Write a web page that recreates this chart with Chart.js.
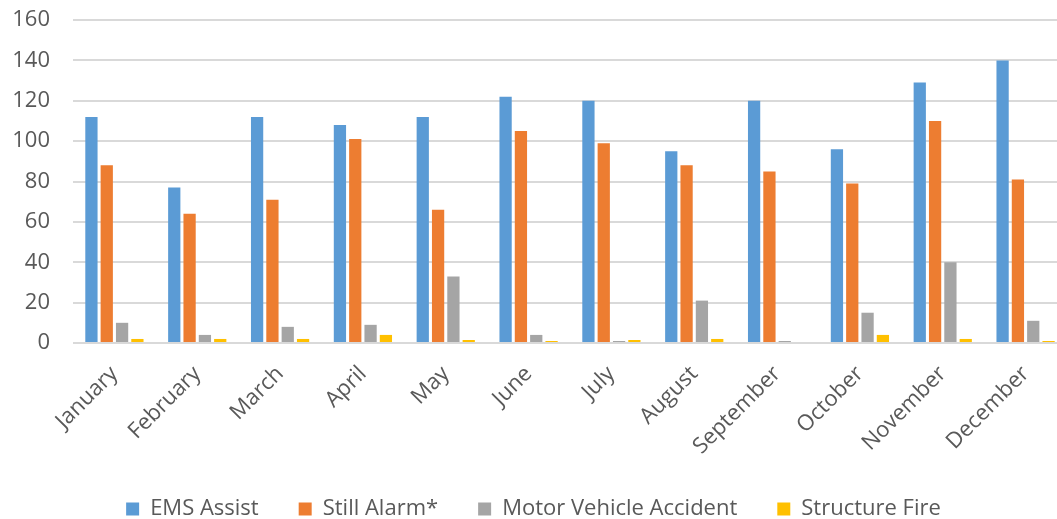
<!DOCTYPE html>
<html>
<head>
<meta charset="utf-8">
<script src="https://cdn.jsdelivr.net/npm/chart.js@4"></script>
<style>
  html, body { margin: 0; padding: 0; background: #fff; overflow: hidden; }
  #wrap { width: 1057px; height: 519px; overflow: hidden; }
</style>
</head>
<body>
<div id="wrap"><canvas id="myChart" width="1067" height="519"></canvas></div>
<script>
const months = ['January', 'February', 'March', 'April', 'May', 'June', 'July', 'August', 'September', 'October', 'November', 'December'];
const emsAssist = [112, 77, 112, 108, 112, 122, 120, 95, 120, 96, 129, 140];
const stillAlarm = [88, 64, 71, 101, 66, 105, 99, 88, 85, 79, 110, 81];
const motorVehicle = [10, 4, 8, 9, 33, 4, 1, 21, 1, 15, 40, 11];
const structureFire = [2, 2, 2, 4, 1.5, 1, 1.5, 2, 0, 4, 2, 1];
const yTicks = [0, 20, 40, 60, 80, 100, 120, 140, 160];

const textColor = '#595959';
const gridColor = '#d9d9d9';
const font = { family: 'Open Sans', size: 22 };

const ctx = document.getElementById('myChart').getContext('2d');

const chart = new Chart(ctx, {
  type: 'bar',
  data: {
    labels: months,
    datasets: [
      { label: 'EMS Assist', backgroundColor: '#5b9bd5', data: emsAssist },
      { label: 'Still Alarm*', backgroundColor: '#ed7d31', data: stillAlarm },
      { label: 'Motor Vehicle Accident', backgroundColor: '#a5a5a5', data: motorVehicle },
      { label: 'Structure Fire', backgroundColor: '#ffc000', data: structureFire }
    ]
  },
  options: {
    responsive: false,
    animation: false,
    datasets: {
      bar: { categoryPercentage: 0.74, barPercentage: 0.8 }
    },
    layout: { padding: { top: 0, left: 0, right: 0, bottom: -11 } },
    plugins: {
      legend: {
        position: 'bottom',
        labels: {
          boxWidth: 13,
          boxHeight: 13,
          padding: 40,
          color: textColor,
          font: font
        }
      },
      tooltip: { enabled: false }
    },
    scales: {
      x: {
        grid: { display: false },
        border: { display: false },
        afterFit: (axis) => { axis.height = 115; axis.paddingRight = 0; axis.paddingLeft = 0; },
        ticks: {
          color: textColor,
          minRotation: 45,
          maxRotation: 45,
          padding: 10,
          font: font
        }
      },
      y: {
        min: 0,
        max: 160,
        afterBuildTicks: (axis) => { axis.ticks = yTicks.map(v => ({ value: v })); },
        afterFit: (axis) => { axis.width = 73; axis.paddingTop = 20; },
        grid: { color: gridColor, lineWidth: 2, drawTicks: false },
        border: { display: false },
        ticks: {
          color: textColor,
          padding: 23,
          font: font
        }
      }
    }
  }
});
</script>
</body>
</html>
